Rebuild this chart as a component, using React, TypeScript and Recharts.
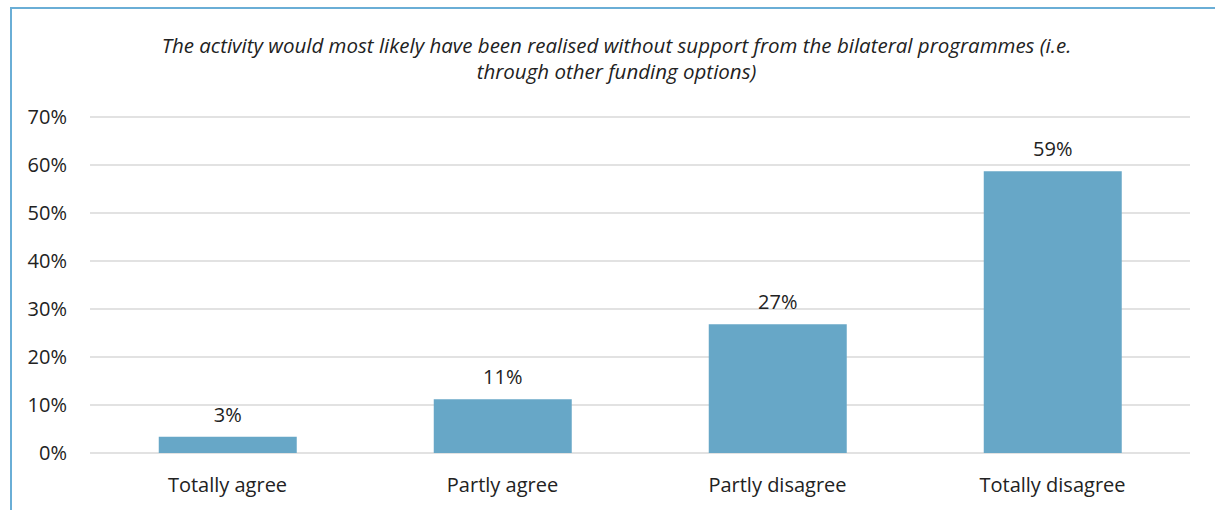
import { Bar, BarChart, CartesianGrid, LabelList, XAxis, YAxis } from 'recharts';

const categories = ['Totally agree', 'Partly agree', 'Partly disagree', 'Totally disagree'];
const shares = [3.4, 11.2, 26.8, 58.7];
const yTicks = [0, 10, 20, 30, 40, 50, 60, 70];

const data = categories.map((name, i) => ({ name, value: shares[i] }));

const font = '"Open Sans", "Noto Sans", sans-serif';

export default function App() {
  return (
    <div
      style={{
        position: 'absolute',
        left: 0,
        top: 0,
        width: 1215,
        height: 510,
        overflow: 'hidden',
        background: '#fff',
        fontFamily: font,
      }}
    >
      {/* frame of the figure box */}
      <div
        style={{
          position: 'absolute',
          left: 10,
          top: 7,
          width: 1300,
          height: 600,
          borderLeft: '2px solid #6aaed6',
          borderTop: '2px solid #6aaed6',
        }}
      />
      <div
        style={{
          position: 'absolute',
          left: 0,
          top: 32,
          width: 1233,
          textAlign: 'center',
          fontStyle: 'italic',
          fontSize: 20.5,
          lineHeight: '26px',
          color: '#222',
        }}
      >
        The activity would most likely have been realised without support from the bilateral programmes (i.e.
        <br />
        through other funding options)
      </div>
      <div style={{ position: 'absolute', left: 0, top: 0 }}>
        <BarChart width={1215} height={510} data={data} margin={{ top: 117, right: 25, bottom: 0, left: 0 }} barCategoryGap="25%">
          <CartesianGrid vertical={false} stroke="#d9d9d9" strokeWidth={1.5} />
          <XAxis
            dataKey="name"
            height={57}
            axisLine={false}
            tickLine={false}
            tickSize={0}
            tickMargin={25}
            tick={{ fill: '#222', fontSize: 20, fontFamily: font }}
          />
          <YAxis
            width={90}
            domain={[0, 70]}
            ticks={yTicks}
            axisLine={false}
            tickLine={false}
            tickSize={0}
            tickMargin={23}
            tickFormatter={(v) => `${v}%`}
            tick={{ fill: '#222', fontSize: 20, fontFamily: font }}
          />
          <Bar dataKey="value" fill="#67a7c7" isAnimationActive={false}>
            <LabelList
              dataKey="value"
              position="top"
              offset={15}
              formatter={(v: number) => `${Math.round(v)}%`}
              style={{ fill: '#222', fontSize: 20, fontFamily: font }}
            />
          </Bar>
        </BarChart>
      </div>
    </div>
  );
}
